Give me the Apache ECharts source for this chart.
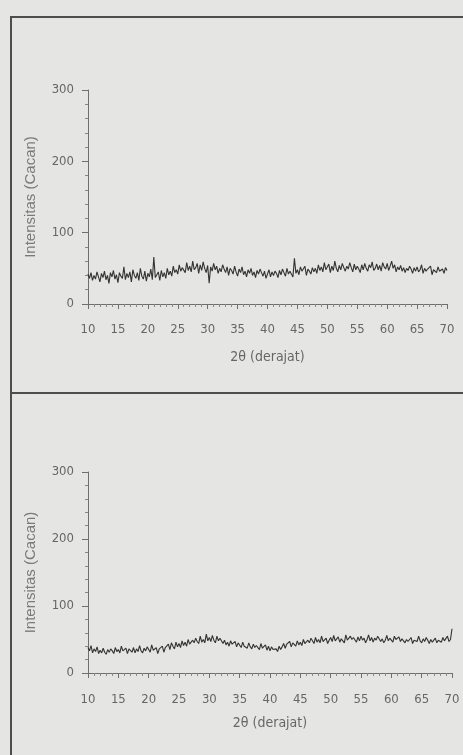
<!DOCTYPE html>
<html>
<head>
<meta charset="utf-8">
<script src="https://cdn.jsdelivr.net/npm/echarts@6/dist/echarts.min.js"></script>
<style>
  html, body { margin: 0; padding: 0; background: #e5e6e4; }
  #chart { width: 463px; height: 755px; }
  .frame { position: absolute; background: #4d4d4d; }
</style>
</head>
<body>
<div id="chart"></div>
<!-- kotak bingkai hasil scan -->
<div class="frame" style="left:10px;top:16px;width:453px;height:2px"></div>
<div class="frame" style="left:10px;top:16px;width:2px;height:739px"></div>
<div class="frame" style="left:10px;top:392px;width:453px;height:2px"></div>
<script>
// sudut 2theta mulai 10, langkah 0.25 derajat
const startAngle = 10;
const stepAngle = 0.25;
const xTicks = [10, 15, 20, 25, 30, 35, 40, 45, 50, 55, 60, 65, 70];
const yTicks = [0, 100, 200, 300];

// pola XRD atas (intensitas, cacah)
const topCounts = [
  42,36,44,33, 40,35,45,38, 31,43,37,46, 34,40,29,44, 38,47,35,41,
  30,44,39,36, 52,34,43,37, 45,31,48,40, 36,44,33,50, 39,35,46,32,
  43,38,49,34, 66,37,41,45, 33,47,38,44, 36,50,41,46, 39,53,44,48,
  42,55,46,51, 49,44,58,47, 53,45,60,48, 51,57,43,55, 47,59,50,44,
  54,29,52,46, 57,48,53,43, 50,45,55,49, 44,52,40,50, 47,42,53,45,
  39,49,44,52, 41,46,38,48, 43,50,40,45, 37,47,42,49, 44,39,46,36,
  42,48,38,45, 40,46,43,37, 47,41,49,44, 39,50,42,46, 45,38,64,43,
  48,41,52,46, 44,53,40,49, 46,42,51,45, 50,43,55,47, 52,45,58,48,
  49,56,44,53, 47,60,50,45, 54,48,57,51, 46,53,49,58, 51,45,56,48,
  53,49,44,55, 48,57,50,46, 55,51,59,47, 50,56,48,54, 46,58,52,49,
  57,47,53,60, 50,55,45,52, 48,54,46,51, 44,50,47,53, 49,43,51,46,
  52,45,48,55, 43,50,46,49, 47,53,41,48, 50,44,52,46, 45,49,43,51,
  47
];

// pola XRD bawah
const bottomCounts = [
  38,33,41,30, 36,32,39,29, 34,30,37,31, 28,35,31,36, 33,29,38,32,
  35,30,40,33, 31,37,29,36, 34,31,38,30, 36,32,41,33, 30,37,33,39,
  35,31,42,34, 32,38,29,36, 34,40,31,38, 37,43,35,45, 40,36,46,39,
  44,38,48,41, 46,40,50,43, 42,49,45,52, 47,44,55,46, 50,45,58,48,
  53,47,56,49, 45,55,48,52, 51,44,49,42, 46,40,48,43, 41,47,39,45,
  44,38,46,40, 42,37,45,39, 36,43,38,41, 40,35,44,37, 38,42,34,40,
  33,39,35,37, 36,32,40,35, 39,44,37,43, 41,47,39,45, 44,40,48,42,
  46,41,50,44, 43,49,45,52, 48,44,53,46, 50,45,55,47, 46,52,44,49,
  53,47,56,48, 49,54,46,51, 52,45,57,49, 47,55,50,53, 51,46,54,48,
  55,49,52,45, 50,57,48,53, 46,52,49,55, 54,47,51,45, 49,56,48,52,
  53,46,55,50, 48,54,47,51, 52,45,50,47, 46,53,44,49, 50,47,55,48,
  45,51,47,53, 49,44,50,46, 47,52,45,49, 51,46,53,48, 48,55,47,50,
  66
];

const toPairs = arr => arr.map((v, i) => [startAngle + i * stepAngle, v]);

const labelFont = "'Liberation Sans Narrow', 'DejaVu Sans Condensed', 'Liberation Sans', sans-serif";
const axisColor = '#6f6f6f';
const textColor = '#666';

function xAxisFor(gridIndex, gap, margin) {
  return {
    type: 'value', gridIndex: gridIndex,
    min: xTicks[0], max: xTicks[xTicks.length - 1], interval: 5,
    name: '2\u03b8 (derajat)', nameLocation: 'middle', nameGap: gap,
    nameTextStyle: { fontFamily: labelFont, fontSize: 14, color: textColor },
    axisLine: { show: true, onZero: false, lineStyle: { color: axisColor, width: 1 } },
    axisTick: { show: true, inside: false, length: 5, lineStyle: { color: axisColor } },
    minorTick: { show: true, splitNumber: 5, length: 3, lineStyle: { color: '#888' } },
    axisLabel: { margin: margin, fontFamily: labelFont, fontSize: 13, color: textColor },
    splitLine: { show: false }
  };
}

function yAxisFor(gridIndex) {
  return {
    type: 'value', gridIndex: gridIndex,
    min: yTicks[0], max: yTicks[yTicks.length - 1], interval: 100,
    name: 'Intensitas (Cacan)', nameLocation: 'middle', nameGap: 50,
    nameTextStyle: { fontFamily: "'Liberation Sans', sans-serif", fontSize: 15, color: '#7a7a7a' },
    axisLine: { show: true, lineStyle: { color: axisColor, width: 1 } },
    axisTick: { show: true, length: 6, lineStyle: { color: axisColor } },
    minorTick: { show: true, splitNumber: 5, length: 3, lineStyle: { color: '#888' } },
    axisLabel: { margin: 14, fontFamily: labelFont, fontSize: 13, color: textColor },
    splitLine: { show: false }
  };
}

function lineSeries(idx, data) {
  return {
    type: 'line', xAxisIndex: idx, yAxisIndex: idx,
    data: toPairs(data), showSymbol: false, silent: true, animation: false,
    lineStyle: { color: '#333', width: 1.1 }
  };
}

const chart = echarts.init(document.getElementById('chart'));
chart.setOption({
  backgroundColor: 'transparent',
  grid: [
    { left: 88, right: 16, top: 90, height: 214 },
    { left: 88, right: 11, top: 472, height: 201 }
  ],
  xAxis: [xAxisFor(0, 46, 19), xAxisFor(1, 43, 20)],
  yAxis: [yAxisFor(0), yAxisFor(1)],
  series: [lineSeries(0, topCounts), lineSeries(1, bottomCounts)]
});
</script>
</body>
</html>
